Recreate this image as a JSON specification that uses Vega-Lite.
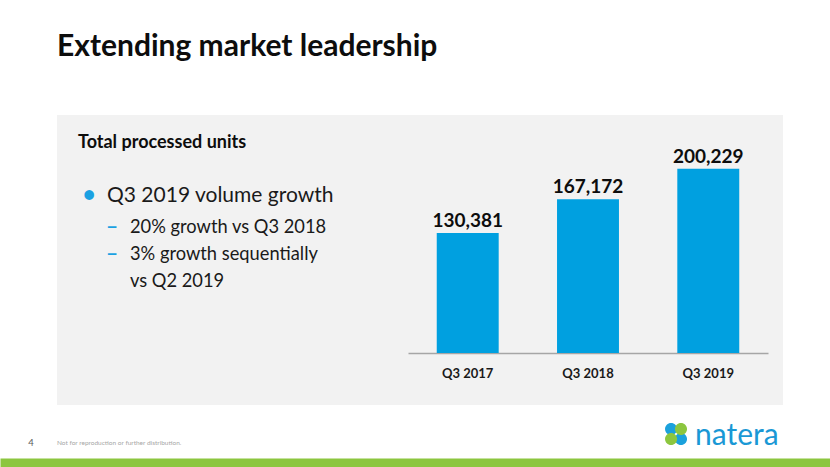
{
  "$schema": "https://vega.github.io/schema/vega-lite/v6.json",
  "width": 726,
  "height": 290,
  "autosize": {"type": "none"},
  "padding": {"left": 57, "top": 115, "right": 47, "bottom": 62},
  "background": "#ffffff",
  "title": {"text": "Extending market leadership", "anchor": "start", "frame": "group", "orient": "top", "offset": 29, "baseline": "alphabetic", "font": "Lato", "fontSize": 30, "fontWeight": "bold", "color": "#0d0d0d"},
  "config": {"view": {"fill": "#f2f2f2", "stroke": null}, "text": {"font": "Lato"}},
  "resolve": {"scale": {"x": "independent", "y": "independent"}, "axis": {"x": "independent", "y": "independent"}},
  "layer": [
    {
      "data": {"values": [
        {"quarter": "Q3 2017", "units": 130381},
        {"quarter": "Q3 2018", "units": 167172},
        {"quarter": "Q3 2019", "units": 200229}
      ]},
      "encoding": {
        "x": {"field": "quarter", "type": "nominal", "sort": null,
          "scale": {"type": "band", "range": [351, 711], "paddingInner": 0.485, "paddingOuter": 0.239},
          "axis": {"orient": "bottom", "offset": -52, "title": null, "ticks": false, "tickSize": 0, "labelPadding": 24, "labelBaseline": "alphabetic", "labelFont": "Lato", "labelFontSize": 13, "labelFontWeight": "bold", "labelColor": "#1a1a1a", "domainColor": "#a6a6a6", "domainWidth": 1.3, "labelAngle": 0, "grid": false}},
        "y": {"field": "units", "type": "quantitative",
          "scale": {"domain": [0, 258600], "range": [238, 0], "nice": false, "zero": true},
          "axis": null}
      },
      "layer": [
        {"mark": {"type": "bar", "color": "#00a0e0"}},
        {"mark": {"type": "text", "baseline": "alphabetic", "dy": -6, "font": "Lato", "fontSize": 19, "fontWeight": "bold", "color": "#0d0d0d"},
         "encoding": {"text": {"field": "units", "type": "quantitative", "format": ","}}}
      ]
    },
    {
      "data": {"values": [{"heading": "Total processed units"}]},
      "mark": {"type": "text", "align": "left", "baseline": "alphabetic", "font": "Lato", "fontSize": 18, "fontWeight": "bold", "color": "#0d0d0d"},
      "encoding": {
        "x": {"field": "heading", "type": "nominal", "scale": {"type": "point", "range": [21, 21], "padding": 0}, "axis": null},
        "y": {"field": "heading", "type": "nominal", "scale": {"type": "point", "range": [32.7, 32.7], "padding": 0}, "axis": null},
        "text": {"field": "heading", "type": "nominal"}
      }
    },
    {
      "data": {"values": [
        {"level": "1", "text": "Q3 2019 volume growth"},
        {"level": "2", "text": ["20% growth vs Q3 2018", "3% growth sequentially", "vs Q2 2019"]}
      ]},
      "encoding": {
        "x": {"field": "level", "type": "ordinal", "scale": {"type": "point", "range": [50, 73], "padding": 0}, "axis": null},
        "y": {"field": "level", "type": "ordinal", "scale": {"type": "point", "range": [87.3, 118.3], "padding": 0}, "axis": null}
      },
      "layer": [
        {"mark": {"type": "text", "align": "left", "baseline": "alphabetic", "lineHeight": 27, "font": "Lato", "color": "#1a1a1a"},
         "encoding": {"text": {"field": "text", "type": "nominal"},
           "size": {"condition": {"test": "datum.level === '1'", "value": 21}, "value": 18.3}}},
        {"mark": {"type": "text", "align": "center", "baseline": "alphabetic", "lineHeight": 27, "dx": -18, "font": "Lato", "fontWeight": "bold", "color": "#1ba1e2"},
         "encoding": {"text": {"condition": {"test": "datum.level === '1'", "value": "•"}, "value": ["–", "–"]},
           "size": {"condition": {"test": "datum.level === '1'", "value": 22}, "value": 21}}}
      ]
    },
    {
      "data": {"values": [{"footer": "4"}, {"footer": "Not for reproduction or further distribution."}]},
      "mark": {"type": "text", "align": "left", "baseline": "middle", "font": "Lato"},
      "encoding": {
        "x": {"field": "footer", "type": "nominal", "sort": null, "scale": {"type": "point", "range": [-28.7, 0], "padding": 0}, "axis": null},
        "y": {"field": "footer", "type": "nominal", "scale": {"type": "point", "range": [328, 328], "padding": 0}, "axis": null},
        "text": {"field": "footer", "type": "nominal"},
        "size": {"condition": {"test": "datum.footer === '4'", "value": 9.5}, "value": 6.5},
        "color": {"condition": {"test": "datum.footer === '4'", "value": "#595959"}, "value": "#a6a6a6"}
      }
    },
    {
      "data": {"values": [{"logo": "natera"}]},
      "encoding": {
        "x": {"field": "logo", "type": "nominal", "bandPosition": 0.8145,
          "scale": {"type": "band", "range": [-57, 773], "paddingInner": 0, "paddingOuter": 0},
          "axis": {"orient": "bottom", "offset": 58, "domainWidth": 10, "domainColor": "#8cc63f", "labels": false, "ticks": false, "title": null, "grid": false}},
        "y": {"field": "logo", "type": "nominal", "scale": {"type": "point", "range": [319, 319], "padding": 0}, "axis": null}
      },
      "layer": [
        {"mark": {"type": "point", "filled": true, "opacity": 1, "size": 484, "strokeWidth": 0, "color": "#1ba1dc",
          "shape": "M -1 -0.45 A 0.55 0.55 0 1 0 0.1 -0.45 A 0.55 0.55 0 1 0 -1 -0.45 Z M -0.1 0.45 A 0.55 0.55 0 1 0 1 0.45 A 0.55 0.55 0 1 0 -0.1 0.45 Z"}},
        {"mark": {"type": "point", "filled": true, "opacity": 1, "size": 484, "strokeWidth": 0, "color": "#8cc63f",
          "shape": "M -0.1 -0.45 A 0.55 0.55 0 1 0 1 -0.45 A 0.55 0.55 0 1 0 -0.1 -0.45 Z M -1 0.45 A 0.55 0.55 0 1 0 0.1 0.45 A 0.55 0.55 0 1 0 -1 0.45 Z"}},
        {"mark": {"type": "text", "align": "left", "baseline": "alphabetic", "dx": 19, "dy": 11, "font": "Lato", "fontSize": 30, "color": "#1a98d5"},
         "encoding": {"text": {"field": "logo", "type": "nominal"}}}
      ]
    }
  ]
}
